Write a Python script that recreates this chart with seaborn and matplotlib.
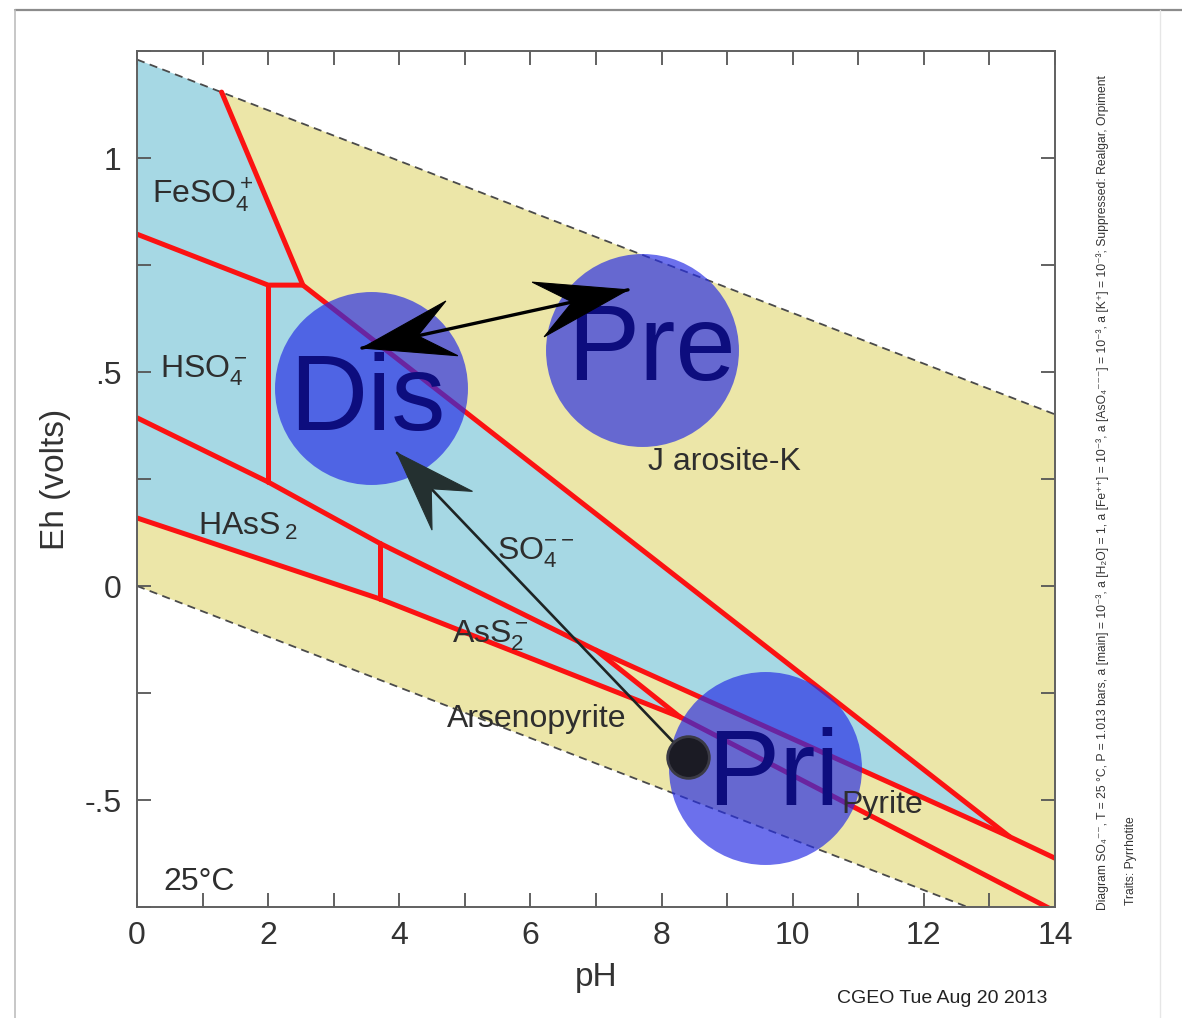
import numpy as np
import matplotlib
matplotlib.use("Agg")
import matplotlib.pyplot as plt
import seaborn as sns
from matplotlib.patches import Polygon
from matplotlib.lines import Line2D

# ---------------- data ----------------
PH_LIM = (0, 14)
EH_LIM = (-0.75, 1.25)
XTICKS = [0, 2, 4, 6, 8, 10, 12, 14]
XTICKLABELS = ["0", "2", "4", "6", "8", "10", "12", "14"]
YTICKS = [-0.5, 0.0, 0.5, 1.0]
YTICKLABELS = ["-.5", "0", ".5", "1"]

# water stability limits
water_ph = [0, 14]
water_upper_eh = [1.23, 0.401]
water_lower_eh = [0.0, -0.829]

# predominance boundaries (red)
bnd_jarosite_ph = [1.29, 2.53, 13.31]
bnd_jarosite_eh = [1.154, 0.703, -0.586]
bnd_feso4_ph = [0.0, 2.0, 2.53]
bnd_feso4_eh = [0.822, 0.703, 0.703]
bnd_hso4_ph = [2.0, 2.0]
bnd_hso4_eh = [0.703, 0.243]
bnd_sulfide_ph = [0.0, 2.0, 3.7, 7.0, 13.31, 14.0]
bnd_sulfide_eh = [0.393, 0.243, 0.100, -0.150, -0.586, -0.636]
bnd_hass2_ph = [3.7, 3.7]
bnd_hass2_eh = [0.100, -0.030]
bnd_arsenopyrite_ph = [0.0, 3.7, 8.28]
bnd_arsenopyrite_eh = [0.159, -0.030, -0.306]
bnd_ass2_ph = [7.0, 8.28]
bnd_ass2_eh = [-0.150, -0.306]
bnd_pyrite_ph = [8.28, 14.0]
bnd_pyrite_eh = [-0.306, -0.760]

# predominance fields
field_feso4_ph = [0.0, 1.29, 2.53, 2.0, 0.0]
field_feso4_eh = [1.23, 1.154, 0.703, 0.703, 0.822]
field_hso4_ph = [0.0, 2.0, 2.0, 0.0]
field_hso4_eh = [0.822, 0.703, 0.243, 0.393]
field_so4_ph = [2.0, 2.53, 13.31, 7.0, 3.7, 2.0]
field_so4_eh = [0.703, 0.703, -0.586, -0.150, 0.100, 0.243]
field_hass2_ph = [0.0, 2.0, 3.7, 3.7, 0.0]
field_hass2_eh = [0.393, 0.243, 0.100, -0.030, 0.159]
field_ass2_ph = [3.7, 7.0, 8.28, 3.7]
field_ass2_eh = [0.100, -0.150, -0.306, -0.030]
field_jarosite_ph = [1.29, 14.0, 14.0, 13.31, 2.53]
field_jarosite_eh = [1.154, 0.401, -0.636, -0.586, 0.703]
field_pyrite_ph = [7.0, 13.31, 14.0, 14.0, 8.28]
field_pyrite_eh = [-0.150, -0.586, -0.636, -0.760, -0.306]
field_arsenopyrite_ph = [0.0, 3.7, 8.28, 14.0, 14.0, 0.0]
field_arsenopyrite_eh = [0.159, -0.030, -0.306, -0.760, -0.829, 0.0]

# region labels
label_text = [r"FeSO$_4^+$", r"HSO$_4^-$", r"HAsS$\,_2$", r"SO$_4^{--}$",
              r"AsS$_2^-$", "Arsenopyrite", "J arosite-K", "Pyrite", "25°C"]
label_ph = [0.23, 0.35, 0.93, 5.49, 4.80, 4.73, 7.79, 10.74, 0.40]
label_eh = [0.895, 0.488, 0.119, 0.061, -0.131, -0.329, 0.271, -0.530, -0.710]

# stage circles
circle_ph = [3.57, 7.70, 9.58]
circle_eh = [0.463, 0.551, -0.425]
circle_text = ["Dis", "Pre", "Pri"]
circle_text_ph = [3.51, 7.84, 9.70]
circle_text_eh = [0.364, 0.481, -0.512]

# starting point and arrows
dot_ph, dot_eh = 8.40, -0.400
arrow1_from = (8.40, -0.400)
arrow1_to = (3.965, 0.311)
arrow2_a = (3.431, 0.556)
arrow2_b = (7.488, 0.692)

side_text = ("Diagram SO₄⁻⁻, T = 25 °C, P = 1.013 bars, a [main] = 10⁻³, a [H₂O] = 1, "
             "a [Fe⁺⁺] = 10⁻³, a [AsO₄⁻⁻⁻] = 10⁻³, a [K⁺] = 10⁻³; Suppressed: Realgar, Orpiment")
side_text2 = "Traits: Pyrrhotite"
stamp_text = "CGEO Tue Aug 20 2013"

# ---------------- style ----------------
sns.set_theme(style="white")
plt.rcParams["font.family"] = ["Liberation Sans", "DejaVu Sans"]
plt.rcParams["mathtext.fontset"] = "custom"
plt.rcParams["mathtext.rm"] = "Liberation Sans"
plt.rcParams["mathtext.it"] = "Liberation Sans"
plt.rcParams["mathtext.bf"] = "Liberation Sans:bold"

BLUE_FIELD = "#a6d8e4"
YELLOW_FIELD = "#ece6a8"
RED = "#fb1212"
CIRCLE = (38/255, 45/255, 228/255)
TXT = "#2e2e2e"

W, H, DPI = 11.82, 10.18, 100
fig = plt.figure(figsize=(W, H), dpi=DPI)
fig.patch.set_facecolor("white")
ax = fig.add_axes([137/1182, 1 - 907/1018, (1055-137)/1182, (907-51)/1018])
ax.set_xlim(*PH_LIM)
ax.set_ylim(*EH_LIM)
ax.set_facecolor("white")
ax.set_axisbelow(False)

# fields
for phs, ehs, col in [
    (field_feso4_ph, field_feso4_eh, BLUE_FIELD),
    (field_hso4_ph, field_hso4_eh, BLUE_FIELD),
    (field_so4_ph, field_so4_eh, BLUE_FIELD),
    (field_hass2_ph, field_hass2_eh, BLUE_FIELD),
    (field_ass2_ph, field_ass2_eh, BLUE_FIELD),
    (field_jarosite_ph, field_jarosite_eh, YELLOW_FIELD),
    (field_pyrite_ph, field_pyrite_eh, YELLOW_FIELD),
    (field_arsenopyrite_ph, field_arsenopyrite_eh, YELLOW_FIELD),
]:
    ax.fill(phs, ehs, color=col, lw=0, zorder=1)

# water limits
for ehs in (water_upper_eh, water_lower_eh):
    sns.lineplot(x=water_ph, y=ehs, sort=False, estimator=None, ax=ax,
                 color="#4a4a4a", lw=1.3, linestyle=(0, (4.5, 3)), zorder=2)

# boundaries
for phs, ehs in [
    (bnd_jarosite_ph, bnd_jarosite_eh), (bnd_feso4_ph, bnd_feso4_eh),
    (bnd_hso4_ph, bnd_hso4_eh), (bnd_sulfide_ph, bnd_sulfide_eh),
    (bnd_hass2_ph, bnd_hass2_eh), (bnd_arsenopyrite_ph, bnd_arsenopyrite_eh),
    (bnd_ass2_ph, bnd_ass2_eh), (bnd_pyrite_ph, bnd_pyrite_eh),
]:
    sns.lineplot(x=phs, y=ehs, sort=False, estimator=None, ax=ax,
                 color=RED, lw=3.6, zorder=3, solid_capstyle="round",
                 solid_joinstyle="round")

# circles
sns.scatterplot(x=circle_ph, y=circle_eh, s=19300, color=CIRCLE, alpha=0.68,
                linewidth=0, ax=ax, zorder=4, legend=False)
for t, x, y in zip(circle_text, circle_text_ph, circle_text_eh):
    ax.text(x, y, t, ha="center", va="baseline", fontsize=78,
            color="#0d0d7e", zorder=6)

# region labels
for t, x, y in zip(label_text, label_ph, label_eh):
    ax.text(x, y, t, ha="left", va="baseline", fontsize=23, color=TXT, zorder=7)


def arrow_head(tail, tip, L, Wd, notch, color, z):
    p_tip = ax.transData.transform(tip)
    p_tail = ax.transData.transform(tail)
    d = p_tip - p_tail
    u = d / np.hypot(*d)
    n = np.array([-u[1], u[0]])
    pts = np.array([p_tip, p_tip - L*u + Wd*n, p_tip - notch*L*u, p_tip - L*u - Wd*n])
    ax.add_patch(Polygon(ax.transData.inverted().transform(pts), closed=True,
                         fc=color, ec=color, lw=0.8, zorder=z))


# arrow from primary to dissolution
ax.plot([arrow1_from[0], arrow1_to[0]], [arrow1_from[1], arrow1_to[1]],
        color="#1e2424", lw=1.9, zorder=5)
arrow_head(arrow1_from, arrow1_to, 80, 28, 0.62, "#243030", 6)

# double arrow dissolution <-> precipitation
ax.plot([arrow2_a[0], arrow2_b[0]], [arrow2_a[1], arrow2_b[1]],
        color="black", lw=2.4, zorder=5)
arrow_head(arrow2_b, arrow2_a, 92, 28, 0.62, "black", 6)
arrow_head(arrow2_a, arrow2_b, 92, 28, 0.62, "black", 6)

# starting dot
sns.scatterplot(x=[dot_ph], y=[dot_eh], s=900, color="#1b1b24",
                edgecolor="#3a3a44", linewidth=2, ax=ax, zorder=8, legend=False)

# axes styling
ax.set_xticks(XTICKS)
ax.set_xticklabels(XTICKLABELS)
ax.set_xticks(np.arange(PH_LIM[0], PH_LIM[1] + 1, 1), minor=True)
ax.set_yticks(YTICKS)
ax.set_yticklabels(YTICKLABELS)
ax.set_yticks(np.arange(-0.75, 1.26, 0.25), minor=True)
ax.tick_params(which="both", direction="in", top=True, right=True,
               bottom=True, left=True,
               length=10, width=1.3, color="#555555")
ax.tick_params(which="major", labelsize=23, labelcolor="#333333")
ax.tick_params(axis="x", pad=10)
ax.tick_params(axis="y", pad=11)
for s in ax.spines.values():
    s.set_color("#606060")
    s.set_linewidth(1.4)
    s.set_zorder(10)
ax.set_xlabel("pH", fontsize=24, color="#333333", labelpad=8)
ax.set_ylabel("Eh (volts)", fontsize=24, color="#333333", labelpad=10)

# side annotations
fig.text(1103/1182, 1 - 910/1018, side_text, rotation=90, ha="center",
         va="bottom", fontsize=8.7, color="#333333")
fig.text(1131/1182, 1 - 905/1018, side_text2, rotation=90, ha="center",
         va="bottom", fontsize=8.7, color="#333333")
fig.text(837/1182, 1 - 1003/1018, stamp_text, ha="left", va="baseline",
         fontsize=14, color="#222222")

# outer frame lines
fig.add_artist(Line2D([15/1182, 1.0], [1 - 10/1018, 1 - 10/1018],
                      transform=fig.transFigure, color="#8c8c8c", lw=1.6))
fig.add_artist(Line2D([15/1182, 15/1182], [1 - 10/1018, 0.0],
                      transform=fig.transFigure, color="#bdbdbd", lw=1.2))
fig.add_artist(Line2D([1160/1182, 1160/1182], [1 - 10/1018, 0.0],
                      transform=fig.transFigure, color="#e6e6e6", lw=1.0))

fig.savefig("out.png", dpi=DPI)
